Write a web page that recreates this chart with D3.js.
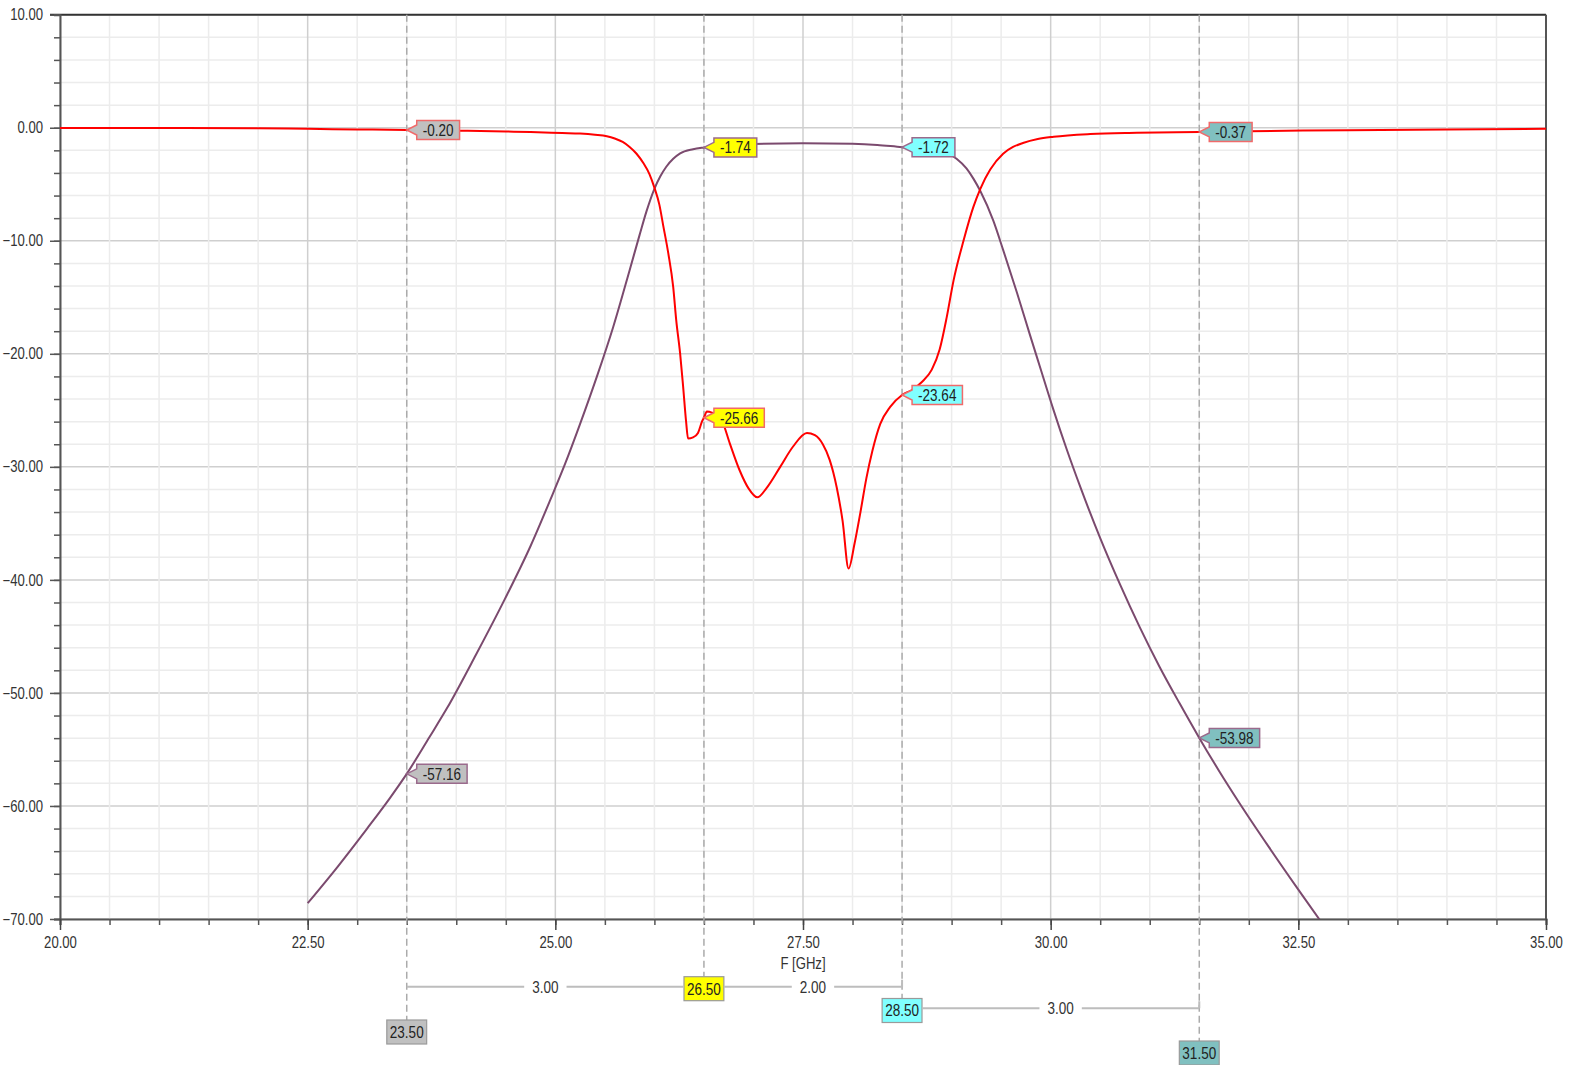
<!DOCTYPE html>
<html>
<head>
<meta charset="utf-8">
<script src="https://cdn.jsdelivr.net/npm/d3@7"></script>
<style>
html,body{margin:0;padding:0;background:#fff;}
svg text{font-family:"Liberation Sans Narrow","Arial Narrow","Liberation Sans",Arial,sans-serif;}
</style>
</head>
<body>
<svg id="chart" width="1577" height="1065"></svg>
<script>
// ---------- data ----------
const s11Freq = [20,21,22,22.5,23,23.5,24,24.5,24.75,25.07,25.25,25.4,25.52,25.6,25.68,25.75,25.82,25.89,25.95,26.0,26.05,26.09,26.14,26.19,26.22,26.26,26.29,26.32,26.34,26.39,26.44,26.48,26.5,26.53,26.58,26.68,26.76,26.86,26.95,27.04,27.13,27.27,27.40,27.54,27.62,27.70,27.77,27.84,27.90,27.96,28.02,28.08,28.14,28.2,28.28,28.38,28.5,28.6,28.7,28.8,28.88,28.95,29.02,29.12,29.22,29.29,29.39,29.52,29.62,29.72,29.87,30.03,30.4,30.87,31.5,32,33,34,35];
const s11Val  = [-0.02,-0.03,-0.05,-0.1,-0.15,-0.2,-0.26,-0.33,-0.38,-0.47,-0.52,-0.62,-0.75,-0.95,-1.25,-1.7,-2.3,-3.15,-4.1,-5.3,-6.8,-8.7,-11.1,-14.1,-17.0,-20.0,-22.9,-26.0,-27.5,-27.4,-27.0,-26.0,-25.66,-25.1,-25.2,-25.9,-27.9,-30.3,-31.9,-32.7,-31.9,-30.0,-28.2,-27.0,-27.2,-28.0,-29.4,-31.8,-34.8,-39.0,-36.8,-34.0,-31.0,-28.6,-26.2,-24.7,-23.64,-23.2,-22.5,-21.4,-19.6,-16.8,-13.5,-10.0,-7.0,-5.4,-3.7,-2.3,-1.7,-1.35,-1.0,-0.8,-0.56,-0.45,-0.37,-0.3,-0.22,-0.15,-0.1];

const s21Freq = [22.5,22.8,23.1,23.33,23.5,23.73,23.91,24.2,24.49,24.75,24.95,25.1,25.25,25.42,25.585,25.75,25.85,25.92,26.0,26.06,26.12,26.19,26.26,26.39,26.5,26.75,27.0,27.5,28.0,28.25,28.5,28.75,28.85,28.95,29.05,29.15,29.22,29.29,29.42,29.52,29.66,29.79,29.89,30.03,30.16,30.30,30.50,30.70,30.9,31.1,31.3,31.5,31.7,31.91,32.2,32.5,32.75];
const s21Val  = [-68.6,-65.4,-62.0,-59.3,-57.16,-53.9,-51.3,-46.6,-41.7,-37.0,-32.9,-29.7,-26.2,-22.0,-17.6,-12.6,-9.5,-7.4,-5.4,-4.3,-3.45,-2.75,-2.27,-1.9,-1.74,-1.52,-1.43,-1.38,-1.42,-1.52,-1.72,-1.85,-1.95,-2.2,-2.75,-3.6,-4.5,-5.6,-8.2,-10.8,-14.6,-18.3,-21.1,-25.0,-28.4,-31.8,-36.3,-40.4,-44.2,-47.7,-50.9,-53.98,-56.9,-59.8,-63.6,-67.4,-70.5];

const markerFreqs  = [23.5, 26.5, 28.5, 31.5];
const markerLabels = ["23.50", "26.50", "28.50", "31.50"];
const markerFills  = ["#c0c0c0", "#ffff00", "#80ffff", "#80c0c0"];
const s11MarkerVals = [-0.20, -25.66, -23.64, -0.37];
const s21MarkerVals = [-57.16, -1.74, -1.72, -53.98];
const deltaFrom   = [0, 1, 2];
const deltaTo     = [1, 2, 3];
const deltaLabels = ["3.00", "2.00", "3.00"];

const yTickVals   = [10, 0, -10, -20, -30, -40, -50, -60, -70];
const xTickVals   = [20, 22.5, 25, 27.5, 30, 32.5, 35];
const xAxisTitle  = "F [GHz]";

// ---------- layout ----------
const svg = d3.select("#chart");
const L = 60, R = 1546, T = 14.7, B = 919;
const K = 0.82; // horizontal condensing of text (narrow font look)
const x = d3.scaleLinear().domain([20, 35]).range([L, R]);
const y = d3.scaleLinear().domain([-70, 10]).range([B, T]);
const S11C = "#ff0000", S21C = "#7b4a6e";

function narrow(sel) {
  sel.each(function () {
    const ax = +(this.getAttribute("x") || 0);
    this.setAttribute("transform", `translate(${ax * (1 - K)},0) scale(${K},1)`);
  });
}

// grid
const g = svg.append("g");
const minorY = d3.range(-70, 10.001, 2);
const minorX = d3.range(20, 35.001, 0.5);
g.selectAll(".hy").data(minorY).join("line")
  .attr("x1", L).attr("x2", R).attr("y1", d => y(d)).attr("y2", d => y(d))
  .attr("stroke", d => (Math.abs(d % 10) < 1e-6) ? "#cfcfcf" : "#ececec").attr("stroke-width", 1.5);
g.selectAll(".vx").data(minorX).join("line")
  .attr("y1", T).attr("y2", B).attr("x1", d => x(d)).attr("x2", d => x(d))
  .attr("stroke", d => (Math.abs(((d - 20) / 2.5) - Math.round((d - 20) / 2.5)) < 1e-6) ? "#cfcfcf" : "#ececec").attr("stroke-width", 1.5);

// frame
svg.append("line").attr("x1", L-10).attr("x2", R).attr("y1", T).attr("y2", T).attr("stroke", "#333").attr("stroke-width", 2);
svg.append("line").attr("x1", R).attr("x2", R).attr("y1", T).attr("y2", B).attr("stroke", "#555").attr("stroke-width", 2);

// y axis
const yAxis = d3.axisLeft(y).tickValues(minorY).tickSize(6).tickFormat("");
const ya = svg.append("g").attr("transform", `translate(${L},0)`).call(yAxis);
ya.select(".domain").attr("stroke", "#555").attr("stroke-width", 2);
ya.selectAll(".tick line").attr("stroke", "#555").attr("stroke-width", 1.5);
const yAxisMajor = d3.axisLeft(y).tickValues(yTickVals).tickSize(10).tickPadding(7).tickFormat(d3.format(".2f"));
const yb = svg.append("g").attr("transform", `translate(${L},0)`).call(yAxisMajor);
yb.select(".domain").remove();
yb.selectAll(".tick line").attr("stroke", "#555").attr("stroke-width", 1.5);
yb.selectAll(".tick text").attr("font-size", 16).attr("fill", "#333")
  .attr("font-family", '"Liberation Sans Narrow","Arial Narrow","Liberation Sans",Arial,sans-serif').call(narrow);

// x axis
const xAxis = d3.axisBottom(x).tickValues(minorX).tickSize(6).tickFormat("");
const xa = svg.append("g").attr("transform", `translate(0,${B})`).call(xAxis);
xa.select(".domain").attr("stroke", "#555").attr("stroke-width", 2);
xa.selectAll(".tick line").attr("stroke", "#555").attr("stroke-width", 1.5);
const xAxisMajor = d3.axisBottom(x).tickValues(xTickVals).tickSize(11).tickPadding(7).tickFormat(d3.format(".2f"));
const xb = svg.append("g").attr("transform", `translate(0,${B})`).call(xAxisMajor);
xb.select(".domain").remove();
xb.selectAll(".tick line").attr("stroke", "#444").attr("stroke-width", 1.5);
xb.selectAll(".tick text").attr("font-size", 16).attr("fill", "#333")
  .attr("font-family", '"Liberation Sans Narrow","Arial Narrow","Liberation Sans",Arial,sans-serif').call(narrow);
svg.append("text").attr("x", x(27.5)).attr("y", 969).attr("text-anchor", "middle")
  .attr("font-size", 16).attr("fill", "#333").text(xAxisTitle).call(narrow);

// bottom marker box rows
const boxCY = [1032, 988.7, 1010.5, 1053];
const rowY  = [986.7, 986.7, 1008.3];

// marker dashed lines
svg.selectAll(".mline").data(markerFreqs).join("line")
  .attr("x1", d => x(d)).attr("x2", d => x(d)).attr("y1", T).attr("y2", (d, i) => boxCY[i] - 12)
  .attr("stroke", "#ababab").attr("stroke-width", 1.5).attr("stroke-dasharray", "7,4");

// clip
svg.append("clipPath").attr("id", "clip").append("rect").attr("x", L).attr("y", T).attr("width", R - L).attr("height", B - T);

const line = d3.line().x(d => x(d[0])).y(d => y(d[1])).curve(d3.curveMonotoneX);
svg.append("path").datum(s21Freq.map((f, i) => [f, s21Val[i]])).attr("d", line)
  .attr("fill", "none").attr("stroke", S21C).attr("stroke-width", 2).attr("clip-path", "url(#clip)");
svg.append("path").datum(s11Freq.map((f, i) => [f, s11Val[i]])).attr("d", line)
  .attr("fill", "none").attr("stroke", S11C).attr("stroke-width", 2).attr("clip-path", "url(#clip)");

// value callouts
function callout(f, v, fill, stroke) {
  const px = x(f), py = y(v);
  const grp = svg.append("g");
  const t = grp.append("text").attr("font-size", 16.5).attr("fill", "#222").text(v.toFixed(2));
  const w = t.node().getComputedTextLength() * K + 12;
  const x0 = px + 10, h = 9.5;
  grp.insert("path", "text")
    .attr("d", `M${px},${py} L${x0},${py - 5} L${x0},${py - h} L${x0 + w},${py - h} L${x0 + w},${py + h} L${x0},${py + h} L${x0},${py + 5} Z`)
    .attr("fill", fill).attr("stroke", stroke).attr("stroke-width", 1.5);
  t.attr("x", x0 + w / 2).attr("y", py + 6).attr("text-anchor", "middle").call(narrow);
}
markerFreqs.forEach((f, i) => {
  callout(f, s11MarkerVals[i], markerFills[i], "#f06a6a");
  callout(f, s21MarkerVals[i], markerFills[i], "#9a6a8c");
});

// bottom frequency boxes
const boxL = [], boxR = [];
markerFreqs.forEach((f, i) => {
  const grp = svg.append("g");
  const t = grp.append("text").attr("font-size", 16.5).attr("fill", "#222").attr("text-anchor", "middle")
    .attr("x", x(f)).attr("y", boxCY[i] + 6).text(markerLabels[i]);
  const w = t.node().getComputedTextLength() * K + 6;
  t.call(narrow);
  boxL[i] = x(f) - w / 2; boxR[i] = x(f) + w / 2;
  grp.insert("rect", "text").attr("x", boxL[i]).attr("y", boxCY[i] - 12).attr("width", w).attr("height", 24)
    .attr("fill", markerFills[i]).attr("stroke", "#9a9a9a").attr("stroke-width", 1.2);
});

// delta lines
deltaFrom.forEach((a, k) => {
  const b = deltaTo[k], yy = rowY[k];
  const sx = (Math.abs(boxCY[a] - yy) < 6) ? boxR[a] : x(markerFreqs[a]);
  const ex = (Math.abs(boxCY[b] - yy) < 6) ? boxL[b] : x(markerFreqs[b]);
  const mid = (sx + ex) / 2;
  const grp = svg.append("g");
  const t = grp.append("text").attr("x", mid).attr("y", yy + 6).attr("text-anchor", "middle")
    .attr("font-size", 16.5).attr("fill", "#333").text(deltaLabels[k]);
  const tw = t.node().getComputedTextLength() * K;
  t.call(narrow);
  const tick = (Math.abs(boxCY[b] - yy) < 6) ? "" : ` M${ex},${yy} L${ex},${yy - 7}`;
  grp.insert("path", "text")
    .attr("d", `M${sx},${yy} L${mid - tw / 2 - 8},${yy} M${mid + tw / 2 + 8},${yy} L${ex},${yy}` + tick)
    .attr("fill", "none").attr("stroke", "#bdbdbd").attr("stroke-width", 2);
});
</script>
</body>
</html>
